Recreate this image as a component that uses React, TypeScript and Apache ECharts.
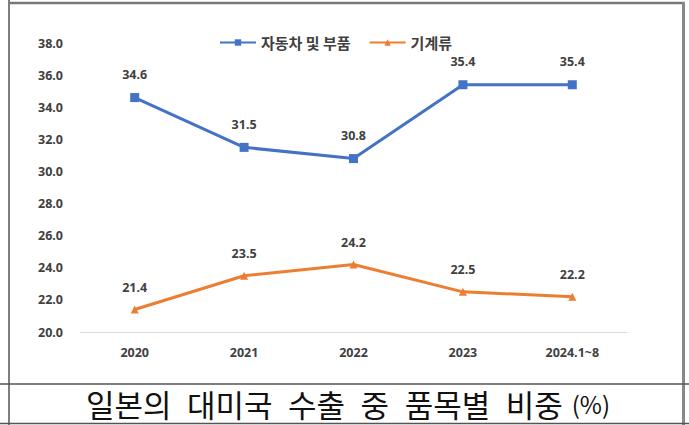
import React, { useEffect, useRef } from "react";
import * as echarts from "echarts";

const categories = ["2020", "2021", "2022", "2023", "2024.1~8"];
const autoParts = [34.6, 31.5, 30.8, 35.4, 35.4];
const machinery = [21.4, 23.5, 24.2, 22.5, 22.2];
const seriesNames = ["자동차 및 부품", "기계류"];
const titleWords = ["일본의", "대미국", "수출", "중", "품목별", "비중"];
const titleUnit = "(%)";

export default function App() {
  const ref = useRef<HTMLDivElement>(null);
  useEffect(() => {
    if (!ref.current) return;
    const chart = echarts.init(ref.current, null, { renderer: "svg" });
    const labelStyle = {
      show: true,
      position: "top" as const,
      distance: 12,
      fontSize: 12.5,
      fontWeight: "bold" as const,
      color: "#404040",
      fontFamily: "Noto Sans",
      formatter: (p: any) => Number(p.value).toFixed(1),
    };
    chart.setOption({
      animation: false,
      backgroundColor: "#ffffff",
      legend: {
        left: 214,
        top: 30,
        itemWidth: 36,
        itemHeight: 8,
        itemGap: 18,
        textStyle: { fontSize: 15, color: "#404040", fontFamily: "Noto Sans CJK KR", fontWeight: "bold" },
        data: seriesNames,
      },
      grid: { left: 80, right: 62, top: 43, bottom: 93, containLabel: false },
      xAxis: {
        type: "category",
        data: categories,
        boundaryGap: true,
        axisLine: { lineStyle: { color: "#d9d9d9", width: 1 } },
        axisTick: { show: false },
        axisLabel: { margin: 14, fontSize: 12.5, fontWeight: "bold", color: "#404040", fontFamily: "Noto Sans" },
      },
      yAxis: {
        type: "value",
        min: 20,
        max: 38,
        interval: 2,
        axisLine: { show: false },
        axisTick: { show: false },
        splitLine: { show: false },
        axisLabel: {
          margin: 17,
          fontSize: 12.5,
          fontWeight: "bold",
          color: "#404040",
          fontFamily: "Noto Sans",
          formatter: (v: number) => v.toFixed(1),
        },
      },
      series: [
        {
          name: seriesNames[0],
          type: "line",
          data: autoParts,
          symbol: "rect",
          symbolSize: 9,
          lineStyle: { color: "#4472C4", width: 3 },
          itemStyle: { color: "#4472C4" },
          label: labelStyle,
        },
        {
          name: seriesNames[1],
          type: "line",
          data: machinery,
          symbol: "triangle",
          symbolSize: 8,
          lineStyle: { color: "#ED7D31", width: 3 },
          itemStyle: { color: "#ED7D31" },
          label: labelStyle,
        },
      ],
      graphic: [
        { type: "line", shape: { x1: 9, y1: 0, x2: 9, y2: 425 }, style: { stroke: "#555", lineWidth: 1.5 } },
        { type: "line", shape: { x1: 9, y1: 3, x2: 685, y2: 3 }, style: { stroke: "#777", lineWidth: 2.5 } },
        { type: "line", shape: { x1: 683.5, y1: 2, x2: 683.5, y2: 425 }, style: { stroke: "#888", lineWidth: 3 } },
        { type: "line", shape: { x1: 0, y1: 384, x2: 689, y2: 384 }, style: { stroke: "#555", lineWidth: 1.5 } },
        { type: "line", shape: { x1: 0, y1: 423.5, x2: 689, y2: 423.5 }, style: { stroke: "#555", lineWidth: 1.5 } },
        {
          type: "text",
          x: 348,
          y: 403.5,
          style: {
            text: "{a|" + titleWords.join("\u2002") + "}{s| }{b|" + titleUnit + "}",
            align: "center",
            verticalAlign: "middle",
            rich: {
              a: { fontSize: 31, lineHeight: 30, fontFamily: "Noto Sans CJK KR", fill: "#111", color: "#111" },
              s: { fontSize: 10, width: 9 },
              b: { fontSize: 24, lineHeight: 30, fontFamily: "Noto Sans CJK KR", fill: "#111", color: "#111" },
            },
          },
        },
      ],
    });
    return () => chart.dispose();
  }, []);
  return <div ref={ref} style={{ position: "fixed", left: 0, top: 0, width: 689, height: 425 }} />;
}
